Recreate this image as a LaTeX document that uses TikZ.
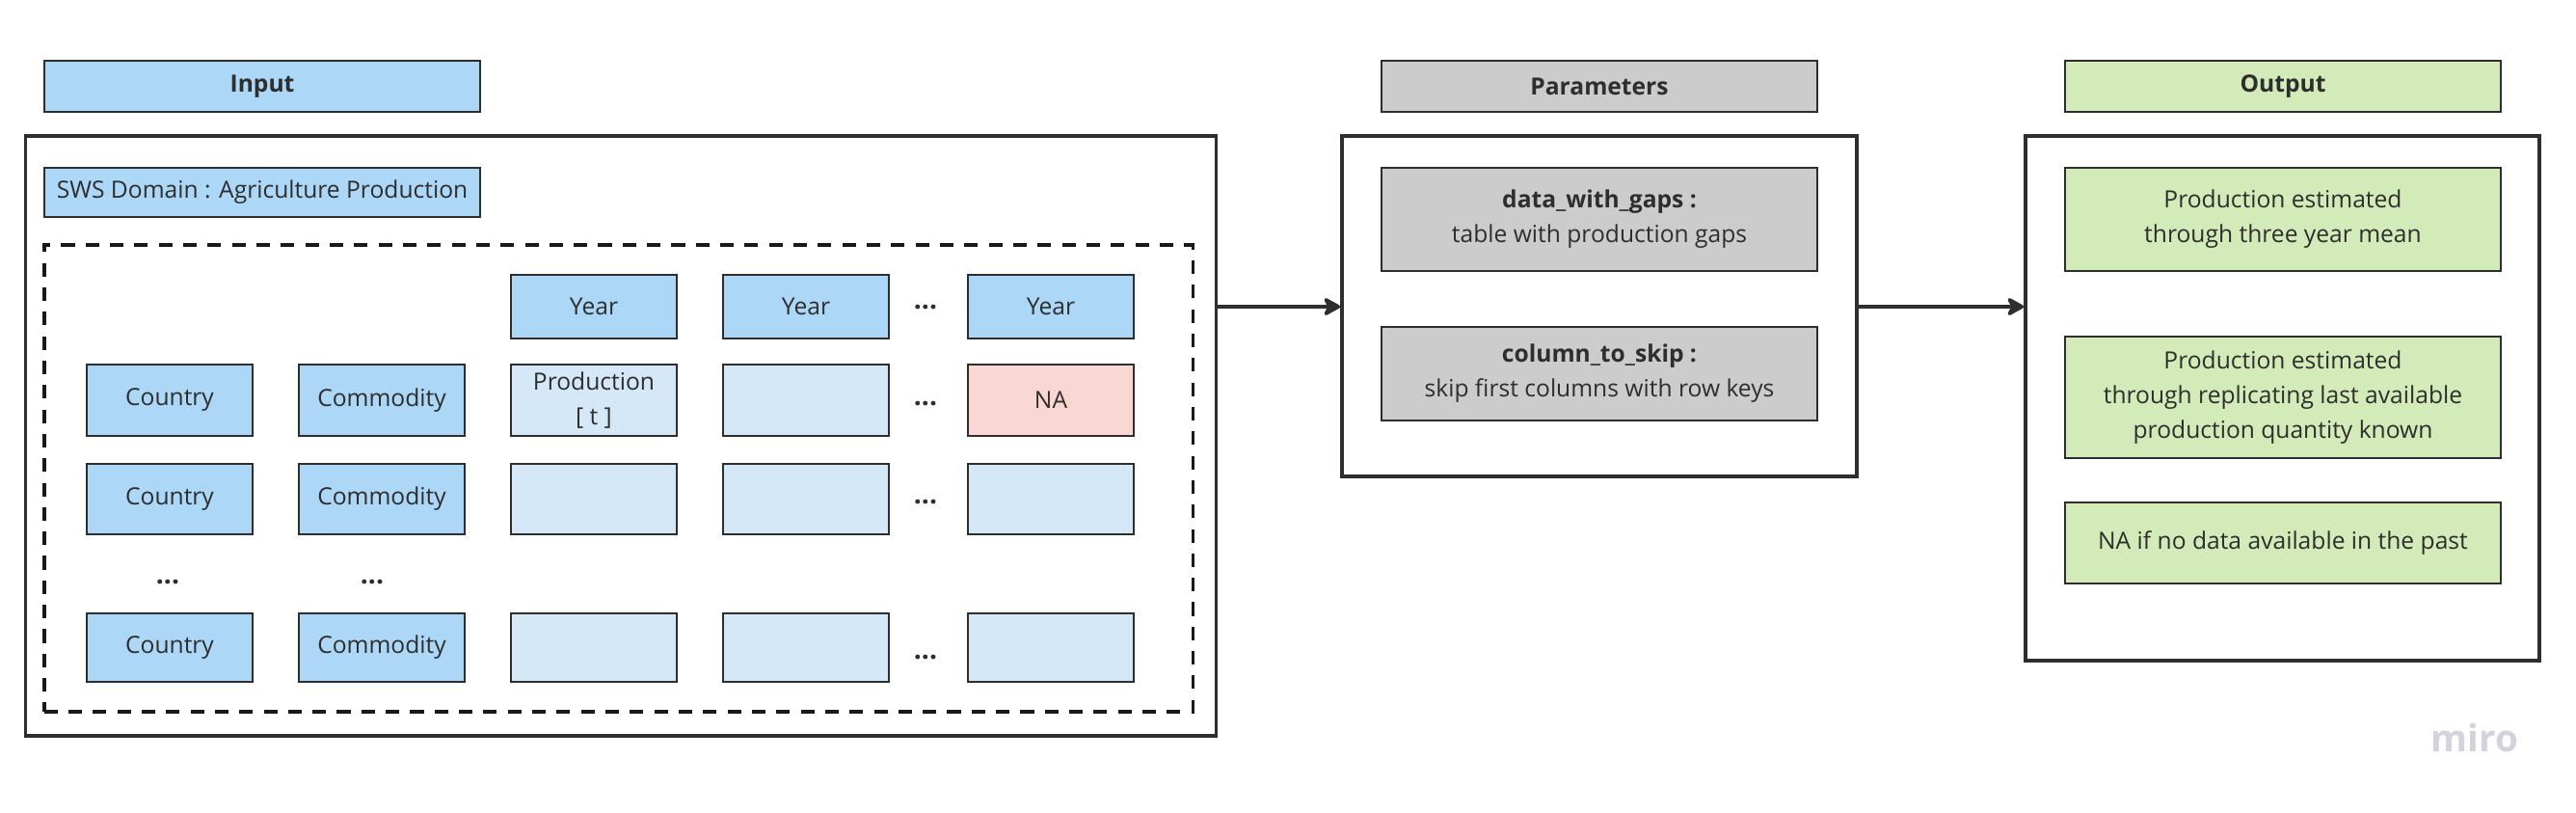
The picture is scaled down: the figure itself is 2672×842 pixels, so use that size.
\documentclass[tikz,border=0pt]{standalone}
\usepackage{fontspec}
\setmainfont{Open Sans}
\usetikzlibrary{arrows.meta}
\definecolor{hdrblue}{HTML}{ACD7F6}
\definecolor{cellblue}{HTML}{D5E8F8}
\definecolor{napink}{HTML}{F9D7D2}
\definecolor{pgray}{HTML}{CCCCCC}
\definecolor{ogreen}{HTML}{D2EBB8}
\definecolor{edge}{HTML}{2E2E2E}
\definecolor{mirogray}{HTML}{D2D3DC}
\begin{document}
\begin{tikzpicture}[x=0.01cm,y=-0.01cm,
  sz/.style 2 args={minimum width=#1cm, minimum height=#2cm},
  txt/.style={font=\fontsize{7}{10.2}\selectfont, text=edge, align=center},
  cellbox/.style={draw=edge, line width=0.5pt, inner sep=0pt, txt},
  hdr/.style={cellbox, font=\fontsize{7}{10.2}\selectfont\bfseries},
  frame/.style={draw=edge, line width=1pt, inner sep=0pt},
  dashframe/.style={draw=black!90, line width=1.05pt, dash pattern=on 4pt off 3.2pt, inner sep=0pt},
  dotsstyle/.style={txt, font=\fontsize{8}{10}\selectfont\bfseries},
  conn/.style={draw=edge, line width=1.15pt, -{Stealth[length=6pt,width=6.6pt,inset=1.8pt,round]}}
]
\useasboundingbox (0,0) rectangle (2672,842);
\fill[white] (0,0) rectangle (2672,842);

% ---- Input ----
\node[hdr, fill=hdrblue, sz={4.52}{0.53}] (inhdr) at (272,89.5) {Input};
\node[frame, sz={12.34}{6.22}] (inbox) at (644,452) {};
\node[cellbox, fill=hdrblue, sz={4.52}{0.51}] (sws) at (272,199.5) {SWS Domain : Agriculture Production};
\node[dashframe, sz={11.91}{4.84}] (dash) at (641.5,496) {};

% year row
\node[cellbox, fill=hdrblue, sz={1.72}{0.66}] (y1) at (616,318) {Year};
\node[cellbox, fill=hdrblue, sz={1.72}{0.66}] (y2) at (836,318) {Year};
\node[dotsstyle] (yd) at (960,319) {...};
\node[cellbox, fill=hdrblue, sz={1.72}{0.66}] (y3) at (1090,318) {Year};

% row 1
\node[cellbox, fill=hdrblue, sz={1.72}{0.74}] (c1) at (176,415) {Country};
\node[cellbox, fill=hdrblue, sz={1.72}{0.74}] (m1) at (396,415) {Commodity};
\node[cellbox, fill=cellblue, sz={1.72}{0.74}] (p1) at (616,415) {Production\\{[ t ]}};
\node[cellbox, fill=cellblue, sz={1.72}{0.74}] (q1) at (836,415) {};
\node[dotsstyle] (d1) at (960,419) {...};
\node[cellbox, fill=napink, sz={1.72}{0.74}] (na1) at (1090,415) {NA};

% row 2
\node[cellbox, fill=hdrblue, sz={1.72}{0.73}] (c2) at (176,517.5) {Country};
\node[cellbox, fill=hdrblue, sz={1.72}{0.73}] (m2) at (396,517.5) {Commodity};
\node[cellbox, fill=cellblue, sz={1.72}{0.73}] (p2) at (616,517.5) {};
\node[cellbox, fill=cellblue, sz={1.72}{0.73}] (q2) at (836,517.5) {};
\node[dotsstyle] (d2) at (960,521) {...};
\node[cellbox, fill=cellblue, sz={1.72}{0.73}] (r2) at (1090,517.5) {};

% ellipsis row
\node[dotsstyle] (cd) at (174,604) {...};
\node[dotsstyle] (md) at (386,604) {...};

% row 4
\node[cellbox, fill=hdrblue, sz={1.72}{0.71}] (c4) at (176,671.5) {Country};
\node[cellbox, fill=hdrblue, sz={1.72}{0.71}] (m4) at (396,671.5) {Commodity};
\node[cellbox, fill=cellblue, sz={1.72}{0.71}] (p4) at (616,671.5) {};
\node[cellbox, fill=cellblue, sz={1.72}{0.71}] (q4) at (836,671.5) {};
\node[dotsstyle] (d4) at (960,682) {...};
\node[cellbox, fill=cellblue, sz={1.72}{0.71}] (r4) at (1090,671.5) {};

% ---- Parameters ----
\node[hdr, fill=pgray, sz={4.52}{0.53}] (phdr) at (1659,89.5) {Parameters};
\node[frame, sz={5.34}{3.53}] (pbox) at (1659,317.5) {};
\node[cellbox, fill=pgray, sz={4.52}{1.07}] (dwg) at (1659,227.5) {\textbf{data\_with\_gaps :}\\table with production gaps};
\node[cellbox, fill=pgray, sz={4.52}{0.97}] (cts) at (1659,387.5) {\textbf{column\_to\_skip :}\\skip first columns with row keys};

% ---- Output ----
\node[hdr, fill=ogreen, sz={4.52}{0.53}] (ohdr) at (2368,89.5) {Output};
\node[frame, sz={5.33}{5.44}] (obox) at (2367.5,413) {};
\node[cellbox, fill=ogreen, sz={4.52}{1.07}] (o1) at (2368,227.5) {Production estimated\\through three year mean};
\node[cellbox, fill=ogreen, sz={4.52}{1.26}] (o2) at (2368,412) {Production estimated\\through replicating last available\\production quantity known};
\node[cellbox, fill=ogreen, sz={4.52}{0.84}] (o3) at (2368,563) {NA if no data available in the past};

% ---- connectors ----
\coordinate (a1s) at (inbox.east |- 0,318);
\coordinate (a1e) at (pbox.west |- 0,318);
\coordinate (a2s) at (pbox.east |- 0,318);
\coordinate (a2e) at (obox.west |- 0,318);
\draw[conn] (a1s) -- (a1e);
\draw[conn] (a2s) -- (a2e);

% watermark
\node[text=mirogray, font=\fontsize{11}{12}\selectfont\bfseries] (miro) at (2567,765) {miro};
\end{tikzpicture}
\end{document}
